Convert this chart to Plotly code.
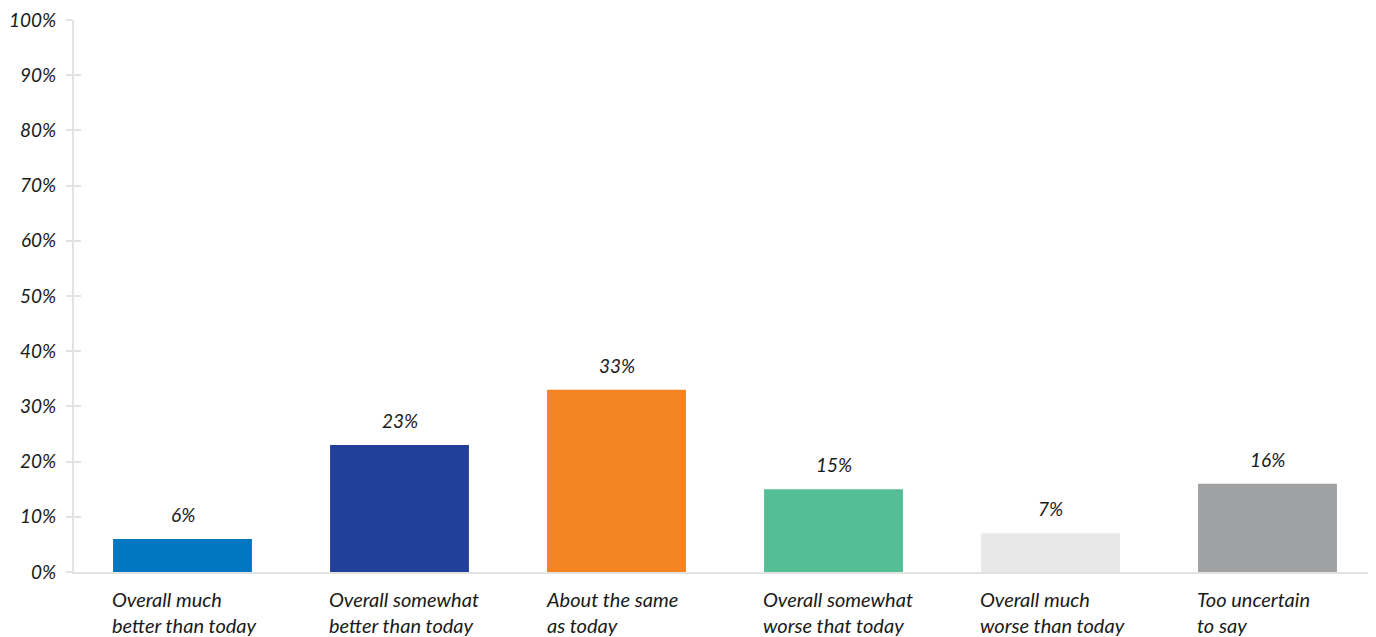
import plotly.graph_objects as go

categories = ["Overall much<br>better than today", "Overall somewhat<br>better than today",
              "About the same<br>as today", "Overall somewhat<br>worse that today",
              "Overall much<br>worse than today", "Too uncertain<br>to say"]
values = [6, 23, 33, 15, 7, 16]
colors = ["#0077C0", "#22409A", "#F58423", "#54BF96", "#E8E8E8", "#A0A1A3"]
tick_vals = [0, 10, 20, 30, 40, 50, 60, 70, 80, 90, 100]
tick_text = [f"{v}%" for v in tick_vals]

FONT = "Lato"
x_idx = list(range(len(categories)))

fig = go.Figure()
fig.add_trace(go.Bar(x=x_idx, y=values, marker_color=colors, marker_line_width=0,
                     hoverinfo="skip"))
# invisible trace for inside ticks overlay
fig.add_trace(go.Scatter(x=[0], y=[0], yaxis="y2", mode="markers",
                         marker_opacity=0, hoverinfo="skip", showlegend=False))

annotations = []
for i, (c, v) in enumerate(zip(categories, values)):
    annotations.append(dict(x=i, y=v, text=f"{v}%", showarrow=False, yanchor="bottom",
                            yshift=11, font=dict(family=FONT, size=19, color="#1a1a1a"),
                            xref="x", yref="y"))
    annotations.append(dict(x=i, y=0, text=c, showarrow=False, yanchor="top",
                            xanchor="left", align="left", xshift=-73, yshift=-13,
                            font=dict(family=FONT, size=20, color="#1a1a1a"),
                            xref="x", yref="y"))

fig.update_layout(
    width=1368, height=629,
    margin=dict(l=66, r=0, t=9, b=65),
    plot_bgcolor="white", paper_bgcolor="white",
    showlegend=False, bargap=0.36,
    font=dict(family=FONT, size=19, color="#1a1a1a"),
    xaxis=dict(range=[-0.5, 5.5], showticklabels=False, ticks="", showgrid=False,
               showline=True, linecolor="#E3E3E3", linewidth=2, zeroline=False,
               fixedrange=True),
    yaxis=dict(range=[0, 100], tickvals=tick_vals, ticktext=tick_text, showgrid=False,
               showline=True, linecolor="#E3E3E3", linewidth=2, ticks="outside",
               ticklen=6, tickwidth=2, tickcolor="#E3E3E3", zeroline=False,
               tickfont=dict(family=FONT, size=19, color="#1a1a1a", style="italic"),
               ticklabelstandoff=6, ticklabeloverflow="allow"),
    yaxis2=dict(range=[0, 100], overlaying="y", side="left", tickvals=tick_vals,
                showticklabels=False, ticks="inside", ticklen=7, tickwidth=2,
                tickcolor="#E3E3E3", showgrid=False, zeroline=False, showline=False),
    annotations=annotations,
)
for a in fig.layout.annotations:
    a.font.style = "italic"

fig.write_html("out.html")
